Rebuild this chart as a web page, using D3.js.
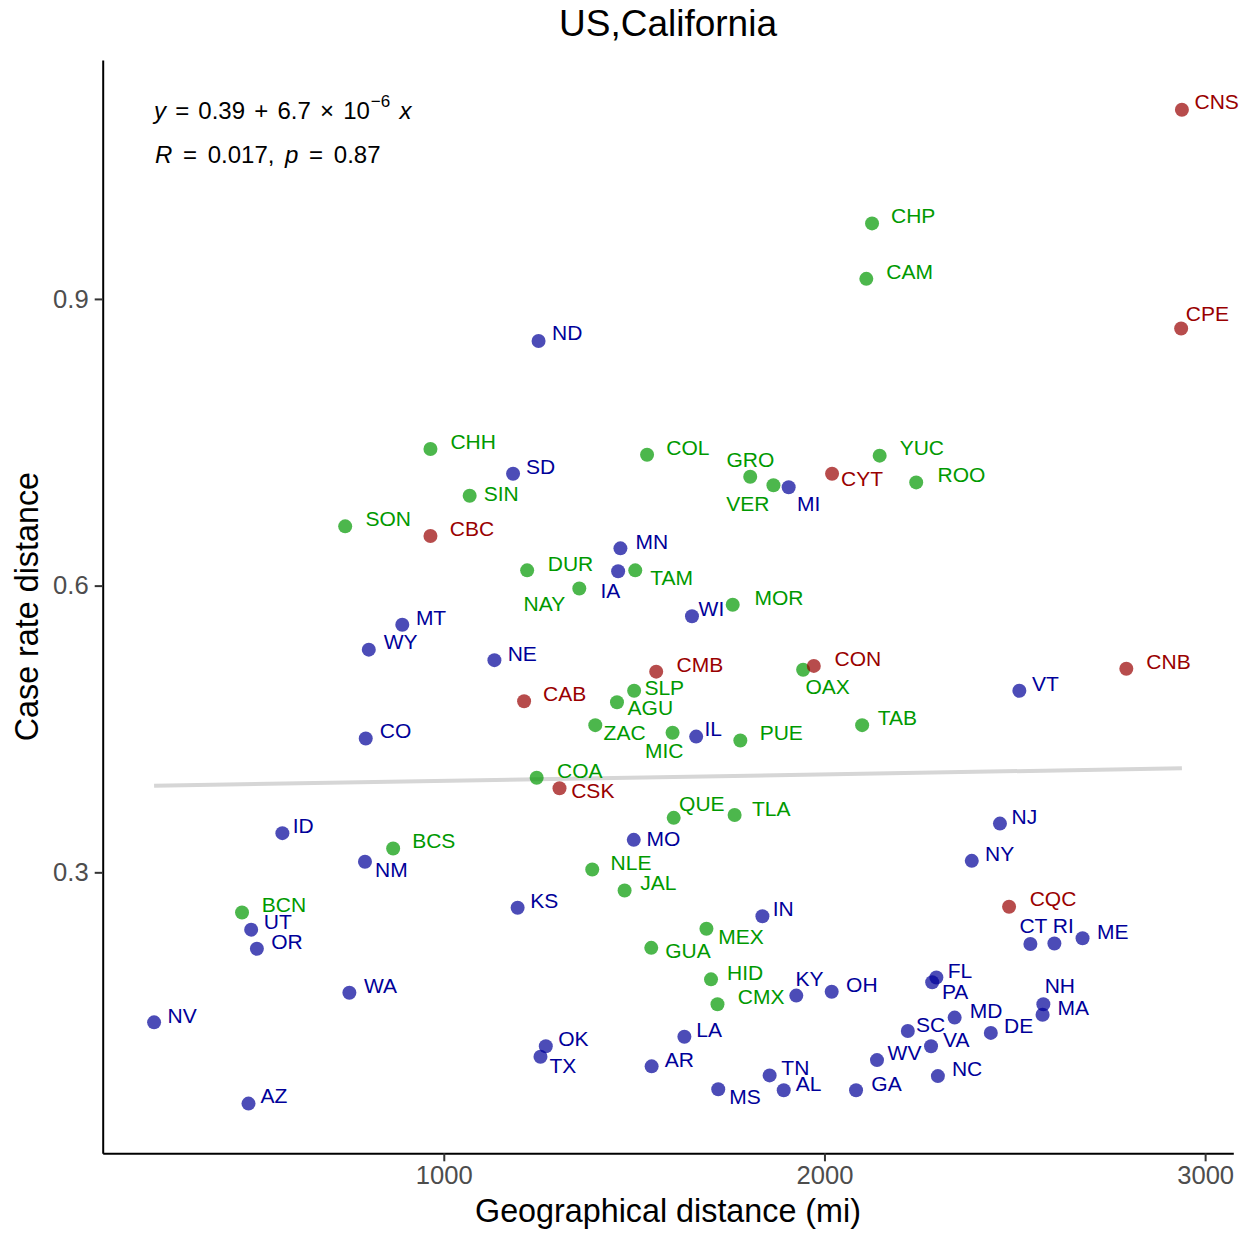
<!DOCTYPE html>
<html>
<head>
<meta charset="utf-8">
<script src="https://cdn.jsdelivr.net/npm/d3@7"></script>
<style>
  html, body { margin: 0; padding: 0; background: #fff; }
  svg { display: block; font-family: "Liberation Sans", Arial, Helvetica, sans-serif; }
</style>
</head>
<body>
<svg id="chart" width="1244" height="1234"></svg>
<script>
// ---------------- data ----------------
const codes = ["CNS","CHP","CAM","CPE","CHH","SIN","SON","CBC","ND","SD","COL","GRO","VER","MI","CYT","MN","DUR","TAM","IA","NAY","MOR","WI","YUC","ROO","MT","WY","CO","ID","BCS","NM","NE","CMB","CAB","SLP","AGU","ZAC","MIC","IL","PUE","OAX","CON","COA","CSK","QUE","TLA","MO","NLE","JAL","TAB","VT","CNB","NJ","NY","BCN","UT","OR","WA","NV","AZ","KS","IN","MEX","GUA","HID","CMX","KY","OH","LA","OK","TX","AR","TN","AL","MS","GA","CQC","CT","RI","ME","FL","PA","NH","MA","MD","SC","DE","VA","WV","NC"];
const groups = ["CA","MX","MX","CA","MX","MX","MX","CA","US","US","MX","MX","MX","US","CA","US","MX","MX","US","MX","MX","US","MX","MX","US","US","US","US","MX","US","US","CA","CA","MX","MX","MX","MX","US","MX","MX","CA","MX","CA","MX","MX","US","MX","MX","MX","US","CA","US","US","MX","US","US","US","US","US","US","US","MX","MX","MX","MX","US","US","US","US","US","US","US","US","US","US","CA","US","US","US","US","US","US","US","US","US","US","US","US","US"];
const geoDistance = [2939,2125,2110,2937,965,1068,741,965,1249,1182,1534,1805,1866,1906,2020,1464,1219,1503,1458,1356,1759,1652,2145,2241,891,803,795,576,867,793,1133,1558,1211,1500,1455,1398,1601,1663,1779,1944,1972,1244,1304,1604,1764,1499,1390,1475,2099,2512,2793,2461,2387,470,494,509,752,239,487,1194,1837,1690,1545,1702,1719,1926,2019,1632,1268,1254,1546,1856,1893,1721,2083,2485,2541,2604,2678,2294,2283,2575,2573,2342,2219,2437,2280,2138,2298];
const caseRateDistance = [1.098,0.979,0.921,0.869,0.743,0.694,0.662,0.652,0.856,0.717,0.737,0.714,0.705,0.703,0.717,0.639,0.616,0.616,0.615,0.597,0.580,0.568,0.736,0.708,0.559,0.533,0.440,0.341,0.325,0.311,0.522,0.510,0.479,0.490,0.478,0.454,0.446,0.442,0.438,0.512,0.516,0.399,0.388,0.357,0.360,0.334,0.303,0.281,0.454,0.490,0.513,0.351,0.312,0.258,0.240,0.220,0.174,0.143,0.058,0.263,0.254,0.241,0.221,0.188,0.162,0.171,0.175,0.128,0.118,0.107,0.097,0.0875,0.072,0.073,0.072,0.264,0.225,0.2255,0.231,0.190,0.185,0.162,0.151,0.148,0.134,0.132,0.118,0.1035,0.0868];
// label nudges (px) from each point, like ggrepel placement
const labelNudge = [[12.6,-8],[19,-7.8],[20,-7.2],[4.7,-14.9],[20,-7.3],[14,-2.5],[20.3,-7.5],[19.3,-7],[13.5,-8],[13,-7.2],[19.3,-7.3],[-23.7,-17.3],[-47.3,17.9],[8.4,16.2],[9,4.7],[15,-7],[20.6,-7.3],[15,7.3],[-17.7,19.6],[-55.7,15.3],[21.7,-7],[6.6,-8],[20,-8],[21.3,-7.5],[13.6,-7.3],[15,-7.7],[14,-7.7],[10.3,-7.4],[19,-7.8],[10,8],[13.3,-6.5],[20.3,-7.2],[19,-7.7],[10.3,-3],[10.6,5.3],[8.3,7.7],[-27.6,17.6],[8.3,-7.9],[19.3,-7.7],[2.3,17],[20.7,-7.7],[20.4,-7.4],[11.7,2.6],[5.4,-14],[17.4,-7],[12.7,-1.5],[18.3,-7.1],[15.7,-8],[15.6,-7.3],[12.7,-7.7],[20,-7.5],[11.6,-7.3],[13.3,-7.7],[19.7,-7.5],[12.6,-8],[14.4,-7.3],[14.6,-7],[13.4,-7.3],[12,-7.8],[12.7,-7.3],[10.3,-7.7],[11.7,7.3],[14,2.3],[16,-7.3],[20.3,-7.5],[-0.7,-17],[14.4,-7.6],[12,-7.3],[12.4,-7.3],[9,8.8],[13,-7.3],[11.7,-7.5],[12,-7.2],[11,6.9],[15.3,-7.2],[20.6,-7.9],[-11,-18.5],[-1.6,-17.8],[14.4,-6.7],[11.3,-7],[9.7,9.2],[1.3,-19],[15,-7.3],[15,-7.2],[8.3,-6.9],[13.3,-7.2],[12,-7.2],[10.6,-7.8],[14,-7.2]];
const xTicks = [1000, 2000, 3000];
const yTicks = [0.3, 0.6, 0.9];
const fitIntercept = 0.389;
const fitSlope = 6.75e-6;
const titleText = "US,California";
const xTitle = "Geographical distance (mi)";
const yTitle = "Case rate distance";

(function () {
// ---------------- setup ----------------
const groupColor = { US: "#000099", MX: "#009900", CA: "#990000" };
const rows = codes.map((c, i) => ({ code: c, group: groups[i], x: geoDistance[i], y: caseRateDistance[i], nudge: labelNudge[i] }));

const svg = d3.select("#chart");
const pL = 102.7, pR = 1233.3, pT = 60, pB = 1153.3;

function expand(ext) { const d = (ext[1] - ext[0]) * 0.05; return [ext[0] - d, ext[1] + d]; }
const x = d3.scaleLinear().domain(expand(d3.extent(geoDistance))).range([pL, pR]);
const y = d3.scaleLinear().domain(expand(d3.extent(caseRateDistance))).range([pB, pT]);

// regression line
const xr = d3.extent(geoDistance);
svg.append("line")
  .attr("x1", x(xr[0])).attr("y1", y(fitIntercept + fitSlope * xr[0]))
  .attr("x2", x(xr[1])).attr("y2", y(fitIntercept + fitSlope * xr[1]))
  .attr("stroke", "#d6d6d6").attr("stroke-width", 4);

// points
svg.append("g").selectAll("circle").data(rows).join("circle")
  .attr("cx", d => x(d.x)).attr("cy", d => y(d.y)).attr("r", 7)
  .attr("fill", d => groupColor[d.group]).attr("fill-opacity", 0.7);

// labels
const fs = 21;
svg.append("g").selectAll("text").data(rows).join("text")
  .attr("x", d => x(d.x) + d.nudge[0])
  .attr("y", d => y(d.y) + d.nudge[1] + 0.358 * fs)
  .attr("font-size", fs)
  .attr("fill", d => groupColor[d.group])
  .text(d => d.code);

// axes
const xAxis = d3.axisBottom(x).tickValues(xTicks).tickSize(8).tickSizeOuter(0).tickPadding(5).tickFormat(d3.format("d"));
const yAxis = d3.axisLeft(y).tickValues(yTicks).tickSize(8).tickSizeOuter(0).tickPadding(6).tickFormat(d3.format(".1f"));
const gx = svg.append("g").attr("transform", `translate(0,${pB})`).call(xAxis);
const gy = svg.append("g").attr("transform", `translate(${pL},0)`).call(yAxis);
[gx, gy].forEach(g => {
  g.select(".domain").attr("stroke", "#000").attr("stroke-width", 2);
  g.selectAll(".tick line").attr("stroke", "#333").attr("stroke-width", 2);
  g.selectAll(".tick text").attr("fill", "#4d4d4d").attr("font-size", 25.6)
    .attr("font-family", "'Liberation Sans', Arial, Helvetica, sans-serif");
});

// titles
const cx = (pL + pR) / 2;
svg.append("text").attr("x", cx).attr("y", 36).attr("text-anchor", "middle")
  .attr("font-size", 37).attr("fill", "#000").text(titleText);
svg.append("text").attr("x", cx).attr("y", 1222).attr("text-anchor", "middle")
  .attr("font-size", 32.3).attr("fill", "#000").text(xTitle);
svg.append("text").attr("transform", `translate(38,${(pT + pB) / 2}) rotate(-90)`)
  .attr("text-anchor", "middle").attr("font-size", 32.3).attr("fill", "#000").text(yTitle);

// equation annotation
const eq = svg.append("text").attr("x", 154).attr("y", 119).attr("font-size", 24).attr("fill", "#000")
  .attr("word-spacing", 2.5);
eq.append("tspan").attr("font-style", "italic").text("y");
eq.append("tspan").text(" = 0.39 + 6.7 × 10");
eq.append("tspan").attr("font-size", 17).attr("dy", -12).attr("dx", 1).text("−6");
eq.append("tspan").attr("dy", 12).text(" ");
eq.append("tspan").attr("font-style", "italic").text("x");

const st = svg.append("text").attr("x", 155).attr("y", 163).attr("font-size", 24).attr("fill", "#000")
  .attr("word-spacing", 4);
st.append("tspan").attr("font-style", "italic").text("R");
st.append("tspan").text(" = 0.017, ");
st.append("tspan").attr("font-style", "italic").text("p");
st.append("tspan").text(" = 0.87");
})();
</script>
</body>
</html>
